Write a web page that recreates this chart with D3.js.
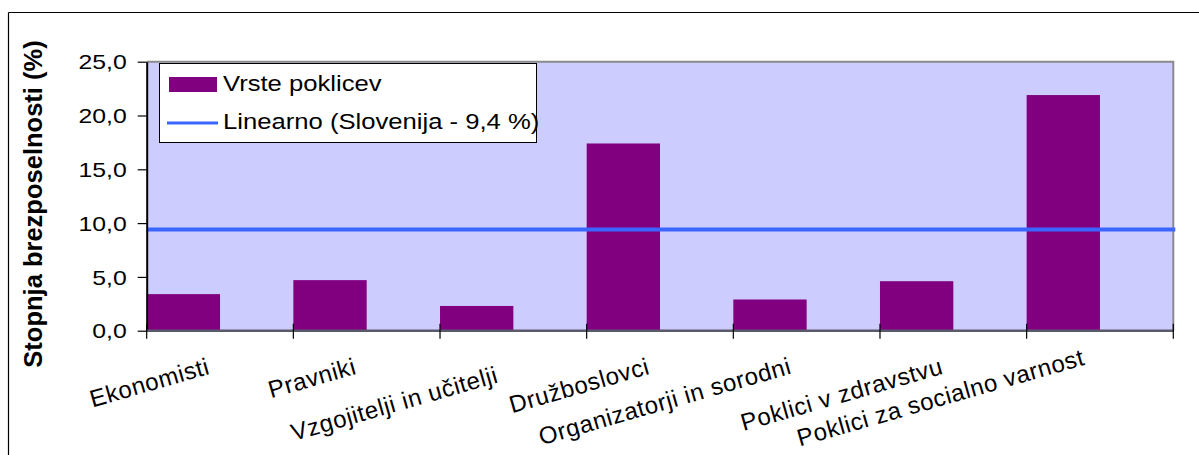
<!DOCTYPE html>
<html>
<head>
<meta charset="utf-8">
<script src="https://cdn.jsdelivr.net/npm/d3@7"></script>
<style>
  html, body { margin: 0; padding: 0; background: #ffffff; }
  svg { display: block; font-family: "Liberation Sans", Arial, sans-serif; }
</style>
</head>
<body>
<svg id="chart" width="1199" height="455"></svg>
<script>
// ---- data ----
const categories = [
  "Ekonomisti",
  "Pravniki",
  "Vzgojitelji in učitelji",
  "Družboslovci",
  "Organizatorji in sorodni",
  "Poklici v zdravstvu",
  "Poklici za socialno varnost"
];
const values = [3.4, 4.7, 2.3, 17.4, 2.9, 4.6, 21.9];
const labelRows = [0, 0, 1, 0, 1, 0, 1];
const yTickValues = [0, 5, 10, 15, 20, 25];
const averageValue = 9.4;
const barSeriesName = "Vrste poklicev";
const lineSeriesName = "Linearno (Slovenija - 9,4 %)";
const yAxisTitle = "Stopnja brezposelnosti (%)";

// ---- layout ----
const plot = { left: 146.7, right: 1173.3, top: 61.7, bottom: 330.7 };
const svg = d3.select("#chart");

const x = d3.scaleBand().domain(categories).range([plot.left, plot.right]).paddingInner(0).paddingOuter(0);
const y = d3.scaleLinear().domain([0, 25]).range([plot.bottom, plot.top]);
const fmt = v => d3.format(".1f")(v).replace(".", ",");

// outer chart border (top and left visible)
svg.append("line").attr("x1", 8.5).attr("x2", 1199).attr("y1", 12.5).attr("y2", 12.5)
  .attr("stroke", "#000").attr("stroke-width", 1.2);
svg.append("line").attr("x1", 8.5).attr("x2", 8.5).attr("y1", 12.5).attr("y2", 455)
  .attr("stroke", "#000").attr("stroke-width", 1.2);

// plot background
svg.append("rect")
  .attr("x", plot.left).attr("y", plot.top)
  .attr("width", plot.right - plot.left).attr("height", plot.bottom - plot.top)
  .attr("fill", "#ccccff");
// plot border top/right
svg.append("path")
  .attr("d", `M${plot.left},${plot.top}H${plot.right}V${plot.bottom}`)
  .attr("fill", "none").attr("stroke", "#8a8a8a").attr("stroke-width", 2);

// bars
svg.append("g").selectAll("rect").data(categories).join("rect")
  .attr("x", d => x(d))
  .attr("y", (d, i) => y(values[i]))
  .attr("width", x.bandwidth() / 2)
  .attr("height", (d, i) => y(0) - y(values[i]))
  .attr("fill", "#800080");

// average line
svg.append("line")
  .attr("x1", plot.left).attr("x2", plot.right + 2)
  .attr("y1", y(averageValue)).attr("y2", y(averageValue))
  .attr("stroke", "#3a66ff").attr("stroke-width", 4);

// y axis
const yAxis = svg.append("g").attr("transform", `translate(${plot.left},0)`)
  .call(d3.axisLeft(y).tickValues(yTickValues).tickSize(9).tickSizeOuter(0).tickFormat(fmt));
yAxis.select(".domain").attr("stroke", "#000").attr("stroke-width", 2);
yAxis.selectAll(".tick line").attr("stroke", "#000").attr("stroke-width", 1.2);
const ySx = 1.24;
yAxis.selectAll(".tick text")
  .attr("x", -20 / ySx).attr("dy", "0.36em")
  .attr("transform", `scale(${ySx},1)`)
  .attr("font-size", 20).attr("fill", "#000");

// x axis
svg.append("line").attr("x1", plot.left).attr("x2", plot.right)
  .attr("y1", y(0)).attr("y2", y(0))
  .attr("stroke", "#5a5a6a").attr("stroke-width", 2.5);
const tickXs = categories.map(c => x(c)).concat([x.range()[1]]);
svg.append("g").selectAll("line").data(tickXs).join("line")
  .attr("x1", d => d).attr("x2", d => d)
  .attr("y1", y(0) - 7).attr("y2", y(0) + 8)
  .attr("stroke", "#000").attr("stroke-width", 1.2);

// category labels (staggered, rotated, right end anchored near the category centre)
const refLowerX = x(categories[2]) + x.bandwidth() / 2;
svg.append("g").selectAll("text").data(categories).join("text")
  .attr("transform", (d, i) => {
    const cx = x(d) + x.bandwidth() / 2;
    const lower = labelRows[i] === 1;
    const ax = cx - (lower ? 14 : 9);
    const ay = lower ? 382 - (cx - refLowerX) * 0.03 : 373.5;
    return `translate(${ax},${ay}) rotate(-16)`;
  })
  .attr("text-anchor", "end")
  .attr("font-size", 24)
  .attr("letter-spacing", 0.6)
  .attr("fill", "#000")
  .text(d => d);

// y title
svg.append("text")
  .attr("transform", `translate(42,${(38 + 370) / 2}) rotate(-90)`)
  .attr("text-anchor", "middle")
  .attr("font-size", 25.5).attr("font-weight", "bold")
  .text(yAxisTitle);

// legend
const lg = svg.append("g");
lg.append("rect").attr("x", 159.5).attr("y", 63.5).attr("width", 377).attr("height", 79)
  .attr("fill", "#fff").attr("stroke", "#000").attr("stroke-width", 1);
lg.append("rect").attr("x", 169).attr("y", 77).attr("width", 48).attr("height", 15).attr("fill", "#800080");
lg.append("line").attr("x1", 167).attr("x2", 218).attr("y1", 123).attr("y2", 123)
  .attr("stroke", "#3a66ff").attr("stroke-width", 3);
const lSx = 1.14;
lg.append("text").attr("x", 223 / lSx).attr("y", 91).attr("transform", `scale(${lSx},1)`)
  .attr("font-size", 22.5).text(barSeriesName);
lg.append("text").attr("x", 223 / lSx).attr("y", 129).attr("transform", `scale(${lSx},1)`)
  .attr("font-size", 22.5).text(lineSeriesName);
</script>
</body>
</html>
